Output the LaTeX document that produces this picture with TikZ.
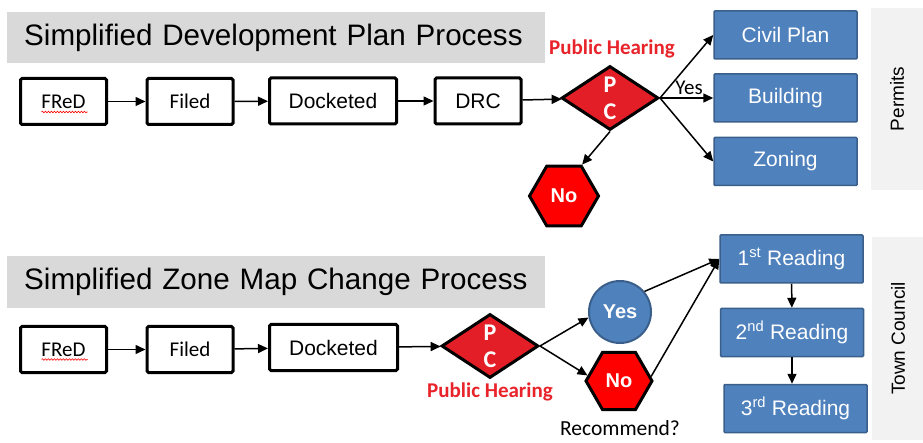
\documentclass[tikz,border=0pt]{standalone}
\usepackage{fontspec}
\setmainfont{Carlito}
\newfontfamily\arialfont{Liberation Sans}
\usetikzlibrary{shapes.geometric,arrows.meta,decorations.pathmorphing}
\definecolor{titlegray}{HTML}{D9D9D9}
\definecolor{panegray}{HTML}{F2F2F2}
\definecolor{boxblue}{HTML}{4F81BD}
\definecolor{blueedge}{HTML}{3A5F8B}
\definecolor{pcred}{HTML}{E31E26}
\definecolor{hearred}{HTML}{E8232A}

\begin{document}
\begin{tikzpicture}[
        x=1pt, y=-1pt,
        titlebar/.style = {fill=titlegray, anchor=west, minimum height=51pt, inner xsep=17pt, text width=504pt, align=left, font=\arialfont\fontsize{29.6}{34}\selectfont},
        stepbox/.style = {draw, line width=3pt, rounded corners=1.5pt, minimum height=46pt, minimum width=86pt, font=\fontsize{21}{24}\selectfont},
        plainstep/.style = {stepbox, font=\arialfont\fontsize{21}{24}\selectfont},
        decision/.style = {diamond, draw, line width=3pt, fill=pcred, text=white, inner sep=0pt, minimum width=97pt, minimum height=64pt, align=center, font=\bfseries\fontsize{24}{27}\selectfont},
        stopsign/.style = {regular polygon, regular polygon sides=6, draw, line width=3pt, fill=red, text=white, inner sep=0pt, minimum size=69pt, font=\arialfont\bfseries\fontsize{20}{24}\selectfont},
        yesball/.style = {circle, draw=blueedge, line width=2pt, fill=boxblue, text=white, inner sep=0pt, minimum size=62pt, font=\arialfont\bfseries\fontsize{20}{24}\selectfont},
        bluebox/.style = {draw=blueedge, line width=1.5pt, fill=boxblue, text=white, rounded corners=1pt, minimum width=143pt, minimum height=48pt, font=\arialfont\fontsize{21}{24}\selectfont},
        sidepane/.style = {fill=panegray, rotate=90, minimum height=52pt, font=\arialfont\fontsize{19}{22}\selectfont},
        hearing/.style = {text=hearred, font=\bfseries\fontsize{21}{24}\selectfont},
        note/.style = {font=\fontsize{21.5}{24}\selectfont},
        flow/.style = {line width=1.5pt, -{Triangle[length=10pt,width=9pt]}},
        squiggle/.style = {red, line width=0.6pt, decorate, decoration={snake, amplitude=0.8pt, segment length=3pt}}
    ]
    \useasboundingbox (0,0) rectangle (923,443);

    \node[titlebar] (title1) at (7,38) {Simplified Development Plan Process};
    \node[stepbox] (fred1) at (63.5,101.5) {FReD};
    \node[stepbox] (filed1) at (190,101.5) {Filed};
    \node[plainstep, minimum width=127pt] (dock1) at (333,101) {Docketed};
    \node[plainstep] (drc1) at (478,101) {DRC};
    \node[decision] (pc1) at (610,98) {P\\C};
    \node[hearing] (hear1) at (612,49) {Public Hearing};
    \node[stopsign] (no1) at (564,196) {No};
    \node[bluebox] (civil) at (785.5,35) {Civil Plan};
    \node[bluebox] (building) at (785.5,98) {Building};
    \node[bluebox] (zoning) at (785.5,161.5) {Zoning};
    \node[sidepane, minimum width=182pt] (permits) at (897,99) {Permits};
    \node[note, font=\fontsize{21}{24}\selectfont] (yes1) at (689,88) {Yes};

    \draw[squiggle] ([xshift=-22pt,yshift=-10.5pt]fred1.center) -- ++(46,0);
    \draw[flow] (fred1) -- (filed1);
    \draw[flow] (filed1) -- (dock1);
    \draw[flow] (dock1) -- (drc1);
    \draw[flow] (drc1) -- (pc1);
    \draw[flow] (pc1.east) -- (civil.west);
    \draw[flow] (pc1.east) -- (building.west);
    \draw[flow] (pc1.east) -- (zoning.west);
    \draw[flow] (pc1.south) -- (no1.60);

    \node[titlebar, minimum height=52pt] (title2) at (7,282) {Simplified Zone Map Change Process};
    \node[stepbox] (fred2) at (63.5,349.5) {FReD};
    \node[stepbox] (filed2) at (190,349.5) {Filed};
    \node[plainstep, minimum width=128pt] (dock2) at (333.5,347.5) {Docketed};
    \node[decision] (pc2) at (490,346) {P\\C};
    \node[hearing] (hear2) at (490,392) {Public Hearing};
    \node[yesball] (yes2) at (620,312) {Yes};
    \node[stopsign, minimum size=66pt] (no2) at (619,381) {No};
    \node[note] (recommend) at (620,428) {Recommend?};
    \node[bluebox] (read1) at (791.5,259) {1\textsuperscript{st} Reading};
    \node[bluebox] (read2) at (792,332.5) {2\textsuperscript{nd} Reading};
    \node[bluebox] (read3) at (795.5,408.5) {3\textsuperscript{rd} Reading};
    \node[sidepane, minimum width=203pt] (council) at (898,338.5) {Town Council};

    \draw[squiggle] ([xshift=-22pt,yshift=-10pt]fred2.center) -- ++(46,0);
    \draw[flow] (fred2) -- (filed2);
    \draw[flow] (filed2) -- (dock2);
    \draw[flow] (dock2) -- (pc2);
    \draw[flow] (pc2.east) -- (yes2.190);
    \draw[flow] (pc2.east) -- (no2.170);
    \draw[flow] (yes2.40) -- (read1.west);
    \draw[flow] (no2.8) -- (read1.west);
    \draw[flow] (read1) -- (read2);
    \draw[flow] (read2.south) -- (read2.south |- read3.north);
\end{tikzpicture}
\end{document}
